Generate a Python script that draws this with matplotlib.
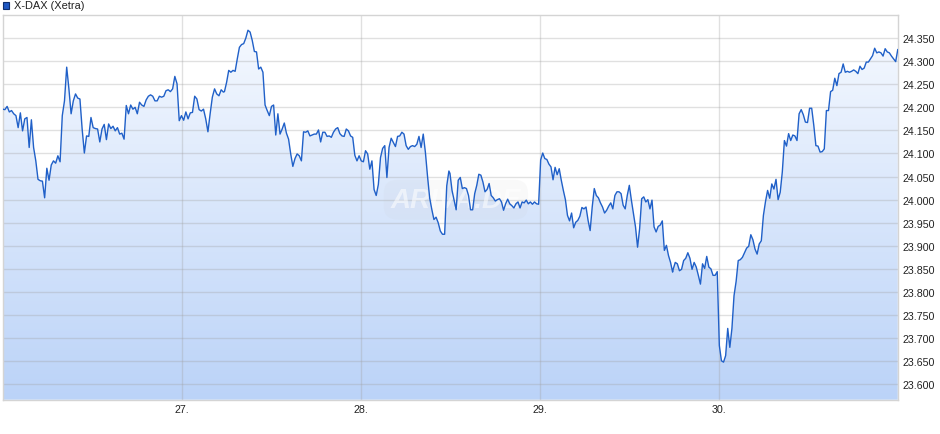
import numpy as np
import matplotlib
matplotlib.use("Agg")
import matplotlib.pyplot as plt
from matplotlib.colors import LinearSegmentedColormap
from matplotlib.ticker import FuncFormatter

plt.rcParams['font.family'] = ['Liberation Sans', 'DejaVu Sans']

# X-DAX intraday, four trading sessions (index points)
day1 = [24196, 24195, 24202, 24190, 24193, 24186, 24182, 24156, 24188, 24149, 24175, 24178, 24113, 24173,
        24113, 24084, 24044, 24041, 24040, 24004, 24068, 24042, 24075, 24084, 24079, 24095, 24082, 24182,
        24214, 24287, 24240, 24186, 24214, 24229, 24220, 24218, 24153, 24101, 24138, 24137, 24178, 24156,
        24154, 24153, 24125, 24153, 24163, 24130, 24164, 24154, 24159, 24149, 24156, 24142, 24144, 24131,
        24204, 24186, 24205, 24196, 24200, 24186, 24211, 24205, 24202, 24216, 24224, 24227, 24224, 24214,
        24214, 24224, 24222, 24224, 24236, 24238, 24234, 24240, 24267, 24251, 24171, 24182, 24172, 24190,
        24175, 24188, 24189, 24224, 24218, 24195, 24192, 24196, 24175, 24147, 24186, 24222, 24240, 24229,
        24225, 24238, 24233]
day2 = [24234, 24254, 24280, 24276, 24280, 24278, 24305, 24330, 24336, 24338, 24350, 24367, 24363, 24345,
        24321, 24320, 24283, 24287, 24276, 24205, 24193, 24182, 24202, 24205, 24140, 24186, 24142, 24153,
        24166, 24144, 24131, 24099, 24072, 24089, 24099, 24095, 24084, 24147, 24146, 24149, 24138, 24140,
        24142, 24142, 24151, 24125, 24146, 24146, 24137, 24138, 24135, 24146, 24153, 24156, 24143, 24138,
        24137, 24153, 24149, 24138, 24135, 24096, 24084, 24095, 24084, 24082, 24106, 24099, 24066, 24084,
        24022, 24009, 24033, 24091, 24111, 24117, 24048, 24113, 24133, 24124, 24115, 24137, 24138, 24146,
        24142, 24117, 24109, 24115, 24117, 24115, 24120, 24137, 24113, 24142, 24103, 24051, 24004, 23979,
        23957, 23962, 23950, 23932, 23925, 23925, 24030, 24062]
day3 = [24057, 24020, 23999, 23978, 24042, 24048, 24024, 24026, 24024, 24009, 23978, 23978, 24013, 24031,
        24055, 24053, 24038, 24017, 24022, 24035, 24009, 24004, 23997, 24000, 24002, 23995, 23977, 23991,
        24001, 23991, 23987, 23982, 23991, 23995, 23982, 23995, 23993, 23999, 23991, 23995, 23990, 23995,
        23991, 23990, 24086, 24101, 24089, 24087, 24077, 24071, 24043, 24070, 24054, 24067, 24042, 24020,
        24000, 23966, 23954, 23971, 23939, 23951, 23955, 23964, 23983, 23980, 23984, 23955, 23933, 23984,
        24024, 24009, 24004, 23993, 23984, 23971, 23977, 23986, 23993, 23980, 24009, 24017, 24017, 24013,
        23988, 23980, 24009, 24031, 23999, 23970, 23941, 23897, 23937, 24002, 24006, 23995, 24000, 23980,
        23999, 23941, 23930, 23942, 23945, 23954, 23890, 23901, 23879, 23864, 23843]
day4 = [23849, 23864, 23861, 23846, 23849, 23868, 23873, 23885, 23873, 23849, 23864, 23854, 23836, 23817,
        23861, 23851, 23877, 23854, 23850, 23836, 23836, 23844, 23684, 23651, 23648, 23662, 23721, 23680,
        23721, 23792, 23823, 23868, 23870, 23875, 23885, 23895, 23899, 23924, 23913, 23893, 23882, 23904,
        23911, 23966, 23996, 24020, 24003, 24034, 24023, 24044, 24000, 24016, 24060, 24128, 24116, 24143,
        24128, 24140, 24138, 24128, 24186, 24195, 24184, 24168, 24167, 24198, 24198, 24161, 24117, 24116,
        24103, 24104, 24110, 24193, 24193, 24234, 24237, 24263, 24247, 24273, 24276, 24294, 24276, 24278,
        24276, 24278, 24281, 24278, 24273, 24289, 24282, 24285, 24298, 24298, 24305, 24312, 24328, 24318,
        24320, 24318, 24311, 24327, 24320, 24318, 24311, 24305, 24299, 24325]

# session spans on the date axis (day of month)
sess_start = [26.0, 27.238, 28.497, 29.743]
sess_end = [27.232, 28.491, 29.740, 30.997]

day_ticks = [27, 28, 29, 30]
day_labels = ["27.", "28.", "29.", "30."]
y_ticks = np.arange(23600, 24351, 50)

x = np.concatenate([np.linspace(s, e, len(d)) for s, e, d in
                    zip(sess_start, sess_end, [day1, day2, day3, day4])])
y = np.concatenate([day1, day2, day3, day4]).astype(float)

ymin, ymax = 23566.6, 24400

fig = plt.figure(figsize=(9.4, 4.35), dpi=100)
ax = fig.add_axes([2.7 / 940, 1 - 400.7 / 435, (898.3 - 2.7) / 940, (400.7 - 16) / 435])
ax.set_xlim(26, 31)
ax.set_ylim(ymin, ymax)

# gradient area under the line
cmap = LinearSegmentedColormap.from_list("fill", ["#bbd3f8", "#f7faff"])
grad = np.linspace(0, 1, 256).reshape(-1, 1)
im = ax.imshow(grad, cmap=cmap, origin="lower", aspect="auto",
               extent=[26, 31, ymin, ymax], zorder=1)
poly = ax.fill_between(x, y, ymin, color="none", lw=0)
im.set_clip_path(poly.get_paths()[0], transform=ax.transData)

ax.plot(x, y, color="#2060c8", lw=1.0, zorder=3)

# grid on top, semi transparent so it tints over the fill
for v in y_ticks:
    ax.axhline(v, color="#a0a0a0", alpha=0.32, lw=1, zorder=2)
for d in day_ticks:
    ax.axvline(d, color="#a0a0a0", alpha=0.32, lw=1, zorder=2)

for s in ax.spines.values():
    s.set_color("#d4d4d4")
    s.set_linewidth(1)

ax.yaxis.tick_right()
ax.set_yticks(y_ticks)
ax.yaxis.set_major_formatter(FuncFormatter(lambda v, p: f"{v:,.0f}".replace(",", ".")))
ax.set_xticks(day_ticks)
ax.set_xticklabels(day_labels)
ax.tick_params(axis="both", length=0, labelsize=7.7, colors="#222222")
ax.tick_params(axis="y", pad=3.3)
ax.tick_params(axis="x", pad=3.3)

# faint watermark
ax.text(28.53, 24000, "ARIVA.DE", fontsize=20, fontweight="bold", style="italic",
        color="white", alpha=0.55, ha="center", va="center", zorder=2.5,
        bbox=dict(boxstyle="round,pad=0.25,rounding_size=0.5", fc="#c4c4c4", ec="none", alpha=0.09))

# legend marker and title
fig.patches.append(plt.Rectangle((2.7 / 940, 1 - 9.5 / 435), 6.6 / 940, 6.6 / 435,
                                 transform=fig.transFigure, facecolor="#1f58c2",
                                 edgecolor="#0e2e6e", lw=0.8))
fig.text(13.5 / 940, 1 - 6.3 / 435, "X-DAX (Xetra)", fontsize=7.9, color="#222222", va="center")

fig.savefig("out.png", dpi=100)
